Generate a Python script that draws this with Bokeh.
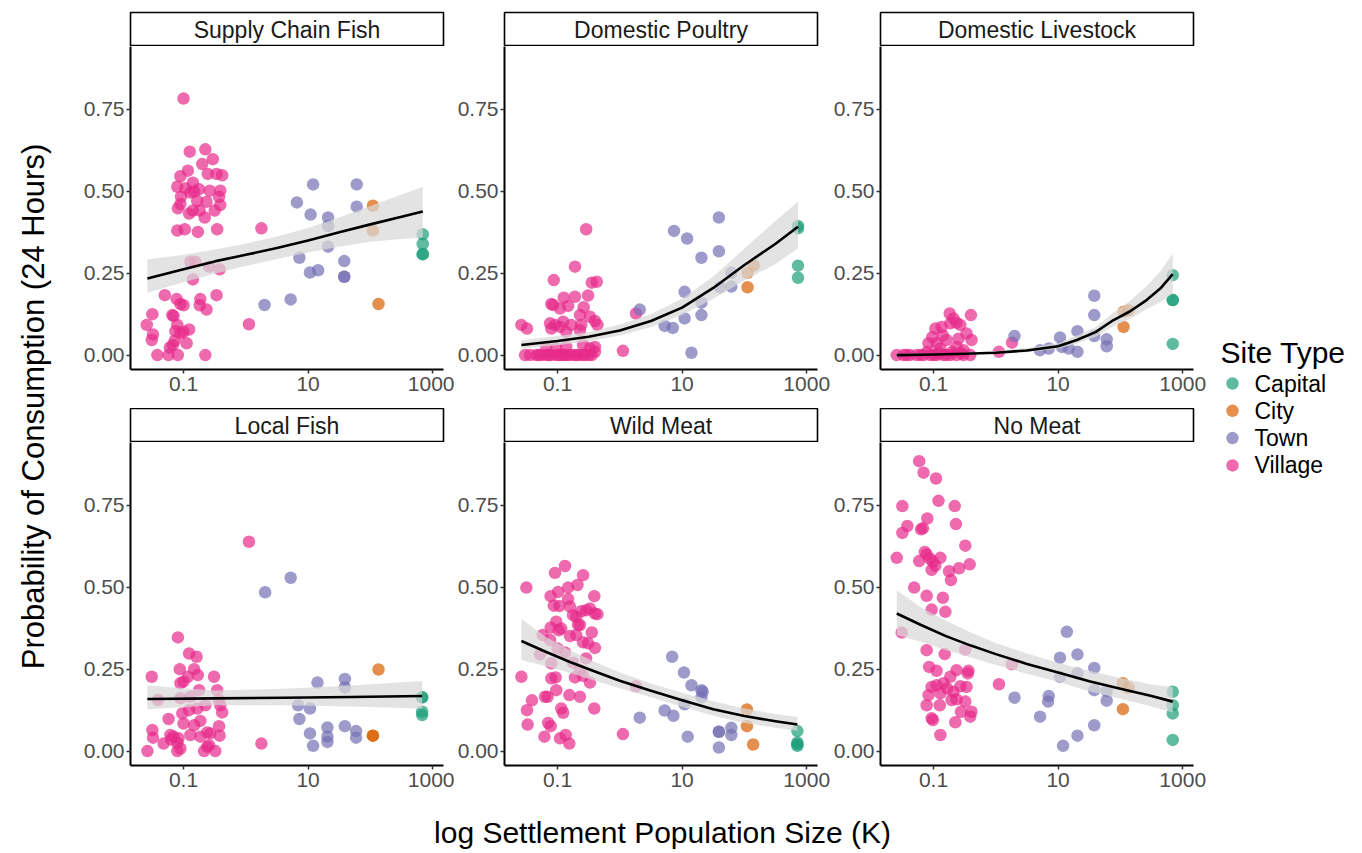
import numpy as np
from bokeh.plotting import figure
from bokeh.layouts import row, column
from bokeh.models import FixedTicker, Range1d, NumeralTickFormatter
from bokeh.embed import file_html
from bokeh.resources import INLINE
from bokeh.core.properties import value

FONT = "Liberation Sans"

PANELS = ["Supply Chain Fish", "Domestic Poultry", "Domestic Livestock",
          "Local Fish", "Wild Meat", "No Meat"]
SITE_TYPES = ["Capital", "City", "Town", "Village"]
SITE_COLORS = ["#1B9E77", "#D95F02", "#7570B3", "#E7298A"]
X_TICKS = [-1, 1, 3]                     # log10 of population (K)
X_TICK_LABELS = ["0.1", "10", "1000"]
Y_TICKS = [0, 0.25, 0.5, 0.75]
X_TITLE = "log Settlement Population Size (K)"
Y_TITLE = "Probability of Consumption (24 Hours)"
LEGEND_TITLE = "Site Type"

# ---- data: (log10 settlement population in K, probability) ----
scf_village = [(-1.00,0.783),(-0.90,0.621),(-0.65,0.628),(-0.53,0.598),(-0.70,0.583),(-0.93,0.563),(-1.05,0.546),
    (-0.61,0.553),(-0.47,0.553),(-0.38,0.549),(-1.10,0.514),(-0.97,0.509),(-0.85,0.526),(-0.83,0.499),(-0.75,0.506),
    (-0.89,0.496),(-0.58,0.502),(-0.41,0.502),(-1.04,0.483),(-0.43,0.483),(-1.05,0.461),(-1.09,0.448),(-0.78,0.470),
    (-0.63,0.468),(-0.41,0.458),(-0.91,0.432),(-0.85,0.441),(-0.74,0.441),(-0.66,0.420),(-0.50,0.441),(-1.10,0.380),
    (-0.98,0.384),(-0.77,0.376),(-0.46,0.384),(-0.89,0.285),(-0.81,0.285),(-0.59,0.270),(-0.42,0.262),(-0.85,0.231),
    (-1.30,0.183),(-1.11,0.171),(-1.05,0.156),(-1.00,0.152),(-0.73,0.171),(-0.74,0.152),(-0.63,0.139),(-0.47,0.183),
    (-1.50,0.125),(-1.18,0.122),(-1.16,0.119),(-1.59,0.092),(-1.49,0.063),(-1.51,0.046),(-1.10,0.092),(-0.91,0.078),
    (-1.00,0.071),(-1.13,0.073),(-1.05,0.066),(-1.14,0.044),(-1.17,0.031),(-1.22,0.023),(-0.95,0.036),(-1.42,0.0),
    (-1.24,0.0),(-1.09,0.0),(-0.65,0.0),(0.25,0.387),(0.05,0.094)]
scf_town = [(0.30,0.153),(0.72,0.170),(0.82,0.466),(1.08,0.521),(1.04,0.429),(1.32,0.420),(1.32,0.394),(1.32,0.331),
    (0.86,0.297),(1.03,0.252),(1.16,0.259),(1.58,0.287),(1.58,0.239),(1.58,0.239),(1.78,0.521),(1.78,0.453)]
scf_city = [(2.04,0.456),(2.04,0.380),(2.13,0.156)]
scf_capital = [(2.84,0.369),(2.84,0.339),(2.84,0.308),(2.84,0.308)]
scf_fit_x = [-1.58, -1.0, -0.5, 0.0, 0.5, 1.0, 1.5, 2.0, 2.5, 2.84]
scf_fit_y = [0.234, 0.262, 0.286, 0.306, 0.327, 0.350, 0.375, 0.399, 0.422, 0.438]
scf_fit_lo = [0.190, 0.222, 0.248, 0.272, 0.293, 0.313, 0.331, 0.346, 0.354, 0.359]
scf_fit_hi = [0.292, 0.306, 0.322, 0.340, 0.362, 0.388, 0.420, 0.455, 0.490, 0.514]

dp_village = [(-1.58,0.092),(-1.49,0.081),(-1.06,0.229),(-0.54,0.384),(-0.72,0.270),(-0.45,0.221),(-0.37,0.224),
    (-0.90,0.175),(-0.72,0.178),(-0.51,0.182),(-1.10,0.156),(-1.07,0.153),(-0.96,0.142),(-0.83,0.150),(-0.58,0.146),
    (-1.12,0.097),(-1.04,0.092),(-0.91,0.102),(-0.64,0.122),(-0.48,0.117),(-0.40,0.104),(-0.36,0.092),(-1.10,0.081),
    (-0.96,0.086),(-0.78,0.092),(-0.62,0.092),(-0.86,0.071),(-0.64,0.076),(-0.59,0.031),(-0.40,0.025),(-0.48,0.020),
    (-1.18,0.025),(-1.02,0.020),(-0.86,0.025),(-1.52,0.0),(-1.44,0.0),(-1.34,0.0),(-1.26,0.0),(-1.18,0.0),(-1.10,0.0),
    (-1.02,0.0),(-0.94,0.0),(-0.86,0.0),(-0.75,0.0),(-0.67,0.0),(-0.56,0.0),(-0.45,0.0),(-1.30,0.0),(-1.14,0.0),
    (-0.98,0.0),(-0.90,0.0),(-0.82,0.0),(-0.70,0.0),(-0.60,0.0),(-0.50,0.0),(-0.40,0.010),(0.05,0.013),(0.26,0.127)]
dp_town = [(0.32,0.139),(0.72,0.089),(0.85,0.083),(0.87,0.379),(1.08,0.356),(1.04,0.193),(1.04,0.112),(1.15,0.007),
    (1.31,0.297),(1.31,0.160),(1.31,0.122),(1.59,0.420),(1.59,0.317),(1.61,0.207),(1.79,0.251),(1.79,0.209)]
dp_city = [(2.05,0.251),(2.15,0.273),(2.05,0.207)]
dp_capital = [(2.86,0.394),(2.86,0.387),(2.86,0.273),(2.86,0.236)]
dp_fit_x = [-1.58, -1.0, -0.5, 0.0, 0.5, 1.0, 1.5, 2.0, 2.5, 2.86]
dp_fit_y = [0.031, 0.043, 0.056, 0.075, 0.104, 0.145, 0.205, 0.275, 0.340, 0.392]
dp_fit_lo = [0.020, 0.030, 0.042, 0.060, 0.086, 0.122, 0.172, 0.228, 0.278, 0.326]
dp_fit_hi = [0.045, 0.058, 0.070, 0.093, 0.125, 0.172, 0.240, 0.325, 0.410, 0.468]

dl_village = [(-0.74,0.127),(-0.40,0.122),(-0.97,0.081),(-0.87,0.086),(-0.73,0.097),(-0.57,0.092),(-0.47,0.066),
    (-0.39,0.046),(-0.68,0.112),(-0.63,0.099),(-1.08,0.036),(-0.95,0.036),(-0.79,0.046),(-0.63,0.025),(-0.89,0.020),
    (-0.52,0.015),(-1.02,0.055),(-0.85,0.060),(-0.60,0.050),(-1.10,0.010),(-0.90,0.005),(-0.70,0.010),(-0.55,0.005),
    (-1.59,0.0),(-1.48,0.0),(-1.43,0.0),(-1.38,0.0),(-1.27,0.0),(-1.21,0.0),(-1.16,0.0),(-1.05,0.0),(-1.00,0.0),
    (-0.95,0.0),(-0.84,0.0),(-0.79,0.0),(-0.73,0.0),(-0.63,0.0),(-0.52,0.0),(-0.41,0.0),(0.05,0.010),(0.26,0.038)]
dl_town = [(0.30,0.058),(0.71,0.015),(0.85,0.020),(1.03,0.054),(1.06,0.025),(1.17,0.020),(1.31,0.073),(1.31,0.010),
    (1.58,0.181),(1.58,0.122),(1.58,0.058),(1.78,0.048),(1.78,0.027)]
dl_city = [(2.05,0.086),(2.05,0.132),(2.13,0.137)]
dl_capital = [(2.84,0.244),(2.84,0.168),(2.84,0.168),(2.84,0.034)]
dl_fit_x = [-1.59, -1.0, -0.5, 0.0, 0.5, 1.0, 1.3, 1.6, 1.89, 2.15, 2.42, 2.64, 2.84]
dl_fit_y = [0.000, 0.002, 0.004, 0.007, 0.014, 0.027, 0.046, 0.070, 0.107, 0.133, 0.168, 0.203, 0.247]
dl_fit_lo = [0.000, 0.000, 0.002, 0.004, 0.009, 0.019, 0.035, 0.055, 0.088, 0.110, 0.140, 0.162, 0.188]
dl_fit_hi = [0.004, 0.005, 0.007, 0.012, 0.022, 0.037, 0.060, 0.085, 0.130, 0.165, 0.210, 0.255, 0.310]

lf_village = [(-1.58,0.0),(-1.51,0.227),(-1.50,0.064),(-1.49,0.041),(-1.41,0.156),(-1.32,0.023),(-1.24,0.098),
    (-1.21,0.049),(-1.16,0.044),(-1.08,0.039),(-1.09,0.347),(-1.06,0.250),(-1.05,0.207),(-1.00,0.212),(-0.93,0.227),
    (-0.91,0.298),(-0.83,0.250),(-0.77,0.232),(-0.79,0.288),(-0.75,0.186),(-1.10,0.0),(-1.05,0.008),(-0.67,0.0),
    (-0.49,0.0),(-0.59,0.018),(-0.62,0.013),(-0.51,0.227),(-0.46,0.186),(-0.43,0.156),(-0.41,0.140),(-0.38,0.118),
    (-0.43,0.076),(-0.42,0.047),(-0.57,0.054),(-0.62,0.057),(-1.02,0.115),(-0.91,0.125),(-0.78,0.130),(-0.65,0.140),
    (-1.00,0.084),(-0.83,0.079),(-0.73,0.092),(-0.89,0.049),(-0.73,0.044),(-1.05,0.161),(-0.89,0.166),(-1.20,0.035),
    (-1.10,0.025),(0.05,0.639),(0.25,0.023)]
lf_town = [(0.31,0.485),(0.72,0.529),(0.84,0.140),(0.86,0.098),(1.03,0.130),(1.03,0.054),(1.08,0.016),(1.15,0.209),
    (1.31,0.072),(1.31,0.044),(1.31,0.028),(1.59,0.220),(1.59,0.194),(1.59,0.076),(1.77,0.061),(1.77,0.041)]
lf_city = [(2.13,0.249),(2.04,0.047),(2.04,0.047)]
lf_capital = [(2.83,0.164),(2.83,0.164),(2.83,0.120),(2.83,0.110)]
lf_fit_x = [-1.58, -0.50, 0.60, 1.70, 2.83]
lf_fit_y = [0.159, 0.161, 0.163, 0.165, 0.168]
lf_fit_lo = [0.128, 0.140, 0.140, 0.136, 0.130]
lf_fit_hi = [0.200, 0.185, 0.190, 0.200, 0.214]

wm_village = [(-1.58,0.227),(-1.50,0.499),(-1.49,0.125),(-1.48,0.081),(-1.41,0.155),(-1.21,0.044),(-1.20,0.166),
    (-1.16,0.166),(-1.15,0.086),(-1.11,0.076),(-1.04,0.544),(-0.99,0.486),(-1.11,0.473),(-1.06,0.444),(-0.97,0.443),
    (-1.11,0.377),(-1.02,0.395),(-0.94,0.374),(-0.98,0.369),(-0.88,0.565),(-0.83,0.499),(-0.68,0.507),(-0.59,0.537),
    (-0.83,0.464),(-0.80,0.441),(-0.75,0.415),(-0.70,0.410),(-0.62,0.427),(-0.54,0.430),(-0.41,0.473),(-0.48,0.435),
    (-0.40,0.420),(-0.36,0.418),(-0.67,0.385),(-0.64,0.385),(-0.80,0.351),(-0.70,0.354),(-0.45,0.362),(-0.59,0.332),
    (-0.51,0.329),(-0.40,0.315),(-1.10,0.222),(-1.03,0.225),(-1.02,0.186),(-0.72,0.225),(-0.81,0.171),(-0.64,0.166),
    (-0.48,0.209),(-0.41,0.130),(-0.94,0.130),(-0.91,0.117),(-0.96,0.039),(-0.87,0.049),(-0.81,0.023),(-1.24,0.354),
    (-1.12,0.339),(-1.28,0.295),(-1.10,0.268),(-1.00,0.313),(-0.88,0.301),(-0.75,0.270),(-0.64,0.247),(-0.54,0.283),
    (-0.59,0.230),(0.05,0.052),(0.26,0.198)]
wm_town = [(0.32,0.102),(0.72,0.124),(0.86,0.108),(0.84,0.288),(1.03,0.240),(1.04,0.143),(1.09,0.044),(1.15,0.201),
    (1.31,0.186),(1.33,0.181),(1.31,0.164),(1.59,0.059),(1.59,0.059),(1.59,0.011),(1.79,0.071),(1.79,0.049)]
wm_city = [(2.04,0.127),(2.04,0.076),(2.14,0.020)]
wm_capital = [(2.85,0.061),(2.85,0.026),(2.85,0.021),(2.85,0.016)]
wm_fit_x = [-1.58, -1.2, -0.8, -0.4, 0.0, 0.5, 1.0, 1.5, 2.0, 2.5, 2.85]
wm_fit_y = [0.336, 0.304, 0.272, 0.243, 0.215, 0.184, 0.155, 0.128, 0.107, 0.091, 0.081]
wm_fit_lo = [0.278, 0.260, 0.238, 0.215, 0.192, 0.164, 0.135, 0.108, 0.086, 0.071, 0.062]
wm_fit_hi = [0.403, 0.350, 0.308, 0.272, 0.240, 0.206, 0.178, 0.152, 0.130, 0.113, 0.104]

nm_village = [(-1.23,0.885),(-1.16,0.850),(-0.96,0.832),(-0.92,0.764),(-1.50,0.748),(-0.66,0.748),(-1.42,0.687),
    (-1.50,0.666),(-1.20,0.677),(-1.17,0.680),(-1.10,0.710),(-0.64,0.693),(-0.49,0.627),(-1.59,0.590),(-1.14,0.608),
    (-1.11,0.600),(-1.06,0.588),(-1.01,0.578),(-0.97,0.566),(-1.03,0.553),(-1.23,0.580),(-0.89,0.590),(-0.75,0.549),
    (-0.59,0.558),(-0.42,0.570),(-0.72,0.522),(-1.31,0.499),(-1.11,0.474),(-0.85,0.468),(-1.03,0.432),(-0.81,0.425),
    (-1.51,0.362),(-0.49,0.310),(-1.11,0.308),(-0.82,0.296),(-1.07,0.257),(-0.95,0.245),(-0.73,0.227),(-0.63,0.247),
    (-0.44,0.245),(-0.45,0.237),(-1.03,0.196),(-0.95,0.201),(-0.84,0.207),(-0.78,0.191),(-0.57,0.198),(-0.47,0.196),
    (-1.08,0.171),(-0.89,0.176),(-0.68,0.181),(-1.11,0.140),(-0.90,0.140),(-0.71,0.156),(-0.63,0.158),(-0.49,0.151),
    (-1.03,0.100),(-1.01,0.095),(-0.56,0.120),(-0.39,0.120),(-0.41,0.105),(-0.65,0.088),(-0.89,0.049),(0.26,0.265),
    (0.05,0.204)]
nm_town = [(0.30,0.163),(0.71,0.105),(0.84,0.151),(0.85,0.168),(1.08,0.016),(1.03,0.285),(1.03,0.227),(1.14,0.364),
    (1.31,0.295),(1.31,0.237),(1.31,0.047),(1.58,0.254),(1.58,0.186),(1.58,0.079),(1.78,0.184),(1.78,0.154)]
nm_city = [(2.04,0.207),(2.13,0.193),(2.04,0.128)]
nm_capital = [(2.84,0.181),(2.84,0.140),(2.84,0.115),(2.84,0.034)]
nm_fit_x = [-1.59, -1.2, -0.8, -0.4, 0.0, 0.5, 1.0, 1.5, 2.0, 2.5, 2.84]
nm_fit_y = [0.420, 0.385, 0.351, 0.322, 0.296, 0.266, 0.240, 0.213, 0.190, 0.168, 0.151]
nm_fit_lo = [0.354, 0.334, 0.308, 0.286, 0.263, 0.236, 0.212, 0.183, 0.160, 0.136, 0.118]
nm_fit_hi = [0.491, 0.438, 0.398, 0.362, 0.330, 0.298, 0.270, 0.245, 0.223, 0.203, 0.195]

PANEL_POINTS = [
    {"Village": scf_village, "Town": scf_town, "City": scf_city, "Capital": scf_capital},
    {"Village": dp_village, "Town": dp_town, "City": dp_city, "Capital": dp_capital},
    {"Village": dl_village, "Town": dl_town, "City": dl_city, "Capital": dl_capital},
    {"Village": lf_village, "Town": lf_town, "City": lf_city, "Capital": lf_capital},
    {"Village": wm_village, "Town": wm_town, "City": wm_city, "Capital": wm_capital},
    {"Village": nm_village, "Town": nm_town, "City": nm_city, "Capital": nm_capital},
]
PANEL_FITS = [
    (scf_fit_x, scf_fit_y, scf_fit_lo, scf_fit_hi),
    (dp_fit_x, dp_fit_y, dp_fit_lo, dp_fit_hi),
    (dl_fit_x, dl_fit_y, dl_fit_lo, dl_fit_hi),
    (lf_fit_x, lf_fit_y, lf_fit_lo, lf_fit_hi),
    (wm_fit_x, wm_fit_y, wm_fit_lo, wm_fit_hi),
    (nm_fit_x, nm_fit_y, nm_fit_lo, nm_fit_hi),
]

# ---- layout geometry (pixels) ----
FRAME_W, FRAME_H, STRIP_H = 313, 323, 34
YT_W = 60
COL_LEFT = [70, 50, 50]
COL_RIGHT = [11, 13, 13]
ROW_TOP = [12, 0]
ROW_BOTTOM = [39, 38]
GRID_H = ROW_TOP[0] + STRIP_H + FRAME_H + ROW_BOTTOM[0] + STRIP_H + FRAME_H + ROW_BOTTOM[1]
X_RANGE = (-1.851, 3.173)
Y_RANGE = (-0.044, 0.942)
TICK_FONT = "21px"
draw_order = ["Village", "Town", "City", "Capital"]
color_of = dict(zip(SITE_TYPES, SITE_COLORS))


def base_fig(**kw):
    return figure(toolbar_location=None, output_backend="svg", min_border=0,
                  background_fill_color="white", border_fill_color="white", **kw)


def make_strip(name, ci, ri):
    s = base_fig(frame_width=FRAME_W, frame_height=STRIP_H,
                 x_range=Range1d(0, 1), y_range=Range1d(0, 1),
                 x_axis_type=None, y_axis_type=None,
                 min_border_left=COL_LEFT[ci], min_border_right=COL_RIGHT[ci],
                 min_border_top=ROW_TOP[ri], min_border_bottom=0)
    s.outline_line_color = "black"
    s.outline_line_width = 1.6
    s.text(x=[0.5], y=[0.5], text=[name], text_align="center", text_baseline="middle",
           text_font=value(FONT), text_font_size="23px", text_color="#1A1A1A")
    return s


def make_panel(idx, ci, ri):
    p = base_fig(frame_width=FRAME_W, frame_height=FRAME_H,
                 x_range=Range1d(*X_RANGE), y_range=Range1d(*Y_RANGE),
                 min_border_left=COL_LEFT[ci], min_border_right=COL_RIGHT[ci],
                 min_border_top=0, min_border_bottom=ROW_BOTTOM[ri])
    p.grid.visible = False
    p.outline_line_color = None
    for t in draw_order:
        pts = PANEL_POINTS[idx][t]
        xs = [a for a, b in pts]
        ys = [b for a, b in pts]
        p.scatter(x=xs, y=ys, size=12.5, fill_color=color_of[t], fill_alpha=0.7, line_color=None)
    fx, fy, flo, fhi = PANEL_FITS[idx]
    p.varea(x=fx, y1=flo, y2=fhi, fill_color="#D8D8D8", fill_alpha=0.72)
    p.line(x=fx, y=fy, line_color="black", line_width=2.6, line_join="round")

    p.xaxis.ticker = FixedTicker(ticks=X_TICKS)
    p.xaxis.major_label_overrides = dict(zip(X_TICKS, X_TICK_LABELS))
    p.yaxis.ticker = FixedTicker(ticks=Y_TICKS)
    p.yaxis.formatter = NumeralTickFormatter(format="0.00")
    for ax in (p.xaxis, p.yaxis):
        ax.axis_line_color = "black"
        ax.axis_line_width = 2
        ax.major_tick_line_color = "#333333"
        ax.major_tick_line_width = 1.5
        ax.major_tick_in = 0
        ax.major_tick_out = 4
        ax.minor_tick_line_color = None
        ax.major_label_text_font = FONT
        ax.major_label_text_font_size = TICK_FONT
        ax.major_label_text_color = "#4D4D4D"
    p.yaxis.major_label_standoff = 2
    p.xaxis.major_label_standoff = 3
    return p


rows = []
for ri in range(2):
    cells = []
    for ci in range(3):
        idx = ri * 3 + ci
        cells.append(column(make_strip(PANELS[idx], ci, ri), make_panel(idx, ci, ri)))
    rows.append(row(*cells))
grid = column(*rows)

# y title (centred on the panel area)
yt = base_fig(width=YT_W, height=GRID_H, x_range=Range1d(0, YT_W), y_range=Range1d(0, GRID_H),
              x_axis_type=None, y_axis_type=None)
yt.outline_line_color = None
yt.text(x=[33], y=[GRID_H - 406], text=[Y_TITLE], angle=np.pi / 2, text_align="center",
        text_baseline="middle", text_font=value(FONT), text_font_size="31px", text_color="black")

# legend
LEG_W = 150
lg = base_fig(width=LEG_W, height=GRID_H, x_range=Range1d(0, LEG_W), y_range=Range1d(GRID_H, 0),
              x_axis_type=None, y_axis_type=None)
lg.outline_line_color = None
lg.text(x=[14], y=[352], text=[LEGEND_TITLE], text_align="left", text_baseline="middle",
        text_font=value(FONT), text_font_size="30px", text_color="black")
key_y = [383 + 27.3 * i for i in range(len(SITE_TYPES))]
lg.scatter(x=[26] * len(SITE_TYPES), y=key_y, size=12.5, fill_color=SITE_COLORS, fill_alpha=0.7, line_color=None)
lg.text(x=[48] * len(SITE_TYPES), y=key_y, text=SITE_TYPES, text_align="left", text_baseline="middle",
        text_font=value(FONT), text_font_size="23px", text_color="black")

top = row(yt, grid, lg)

# x title (centred on the panel area)
XT_W, XT_H = YT_W + 1146 + LEG_W, 48
xt = base_fig(width=XT_W, height=XT_H, x_range=Range1d(0, XT_W), y_range=Range1d(0, XT_H),
              x_axis_type=None, y_axis_type=None)
xt.outline_line_color = None
xt.text(x=[662], y=[19], text=[X_TITLE], text_align="center", text_baseline="middle",
        text_font=value(FONT), text_font_size="30px", text_color="black")

layout = column(top, xt)
open("out.html", "w").write(file_html(layout, INLINE))
